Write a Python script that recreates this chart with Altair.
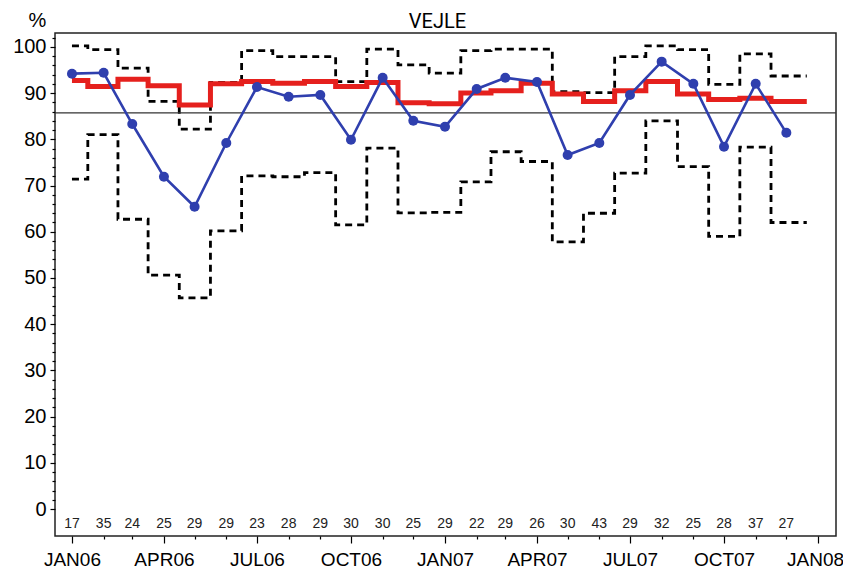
import altair as alt
import pandas as pd

# ---------------- data ----------------
months = pd.date_range("2006-01-01", periods=24, freq="MS")

observed = [94.2, 94.4, 83.3, 71.9, 65.4, 79.2, 91.3, 89.2, 89.6, 79.9, 93.3, 84.0,
            82.7, 90.9, 93.3, 92.4, 76.6, 79.2, 89.6, 96.8, 92.0, 78.4, 92.0, 81.4]
expected = [92.7, 91.4, 93.0, 91.6, 87.4, 92.0, 92.5, 92.1, 92.5, 91.4, 92.3, 87.9,
            87.7, 90.0, 90.5, 92.1, 89.8, 88.2, 90.5, 92.5, 89.8, 88.6, 88.9, 88.2]
upper = [100.2, 99.4, 95.4, 88.2, 82.2, 92.3, 99.2, 97.9, 97.9, 92.5, 99.5, 96.1,
         94.3, 99.2, 99.5, 99.5, 90.3, 90.1, 97.9, 100.2, 99.4, 91.9, 98.5, 93.7]
lower = [71.4, 81.0, 62.7, 50.6, 45.7, 60.2, 72.1, 71.9, 72.8, 61.5, 78.1, 64.1,
         64.2, 70.8, 77.3, 75.2, 57.8, 64.0, 72.7, 84.0, 74.1, 59.0, 78.3, 62.0]
counts = [17, 35, 24, 25, 29, 29, 23, 28, 29, 30, 30, 25,
          29, 22, 29, 26, 30, 43, 29, 32, 25, 28, 37, 27]
target = [85.7]

title_text = "VEJLE"
y_title = "%"

# ---------------- helpers ----------------
def iso(ts):
    return pd.Series(ts).dt.strftime("%Y-%m-%dT%H:%M:%SZ").tolist()

def ms(ts):
    return int(pd.Timestamp(ts, tz="UTC").value // 10**6)

base_df = pd.DataFrame({
    "month": iso(months),
    "observed": observed,
    "n": [str(c) for c in counts],
})

# step segments: each month's value holds from the midpoint with the previous month
starts = [months[0]] + [months[i - 1] + (months[i] - months[i - 1]) / 2 for i in range(1, len(months))]
END_PAD = pd.Timedelta(days=20)
step_x = list(starts) + [months[-1] + END_PAD]
step_df = pd.DataFrame({
    "x": iso(step_x),
    "expected": expected + [expected[-1]],
    "upper": upper + [upper[-1]],
    "lower": lower + [lower[-1]],
})
band_df = step_df.melt(id_vars="x", value_vars=["upper", "lower"], var_name="limit", value_name="v")

x_domain = [ms("2005-12-15T09:36"), ms("2008-01-18T14:00")]
x_ticks = [ms(t) for t in pd.date_range("2006-01-01", periods=25, freq="MS")]

FONT = "Liberation Sans"

x_scale = alt.Scale(type="utc", domain=x_domain, nice=False)
y_scale = alt.Scale(domain=[-5.84, 103.0], nice=False, zero=False)

x_axis = alt.Axis(
    values=x_ticks,
    labelExpr="utcmonth(datum.value) % 3 === 0 ? upper(utcFormat(datum.value, '%b%y')) : ''",
    tickSize={"condition": {"test": "utcmonth(datum.value) % 3 === 0", "value": 7}, "value": 3},
    labelOffset={"condition": {"test": "utcyear(datum.value) === 2008", "value": -3}, "value": 0},
    labelPadding=7,
    labelFontSize=19,
    labelFlush=False,
    labelOverlap=False,
    title=None,
    domain=False,
    grid=False,
)
y_axis = alt.Axis(
    values=list(range(0, 104, 2)),
    labelExpr="datum.value % 10 === 0 ? datum.value : ''",
    tickSize={"condition": {"test": "datum.value % 10 === 0", "value": 5}, "value": 3},
    labelPadding=4,
    labelFontSize=20,
    labelOverlap=False,
    title=y_title,
    titleAngle=0,
    titleX=-18,
    titleY=-13,
    titleAlign="center",
    titleBaseline="middle",
    titleFontSize=20,
    titleFontWeight="normal",
    titleFont=FONT,
    domain=False,
    grid=False,
)


def X(field):
    return alt.X(field, scale=x_scale, axis=x_axis)


def Y(field):
    return alt.Y(field, scale=y_scale, axis=y_axis)


bands = alt.Chart(band_df).mark_line(
    interpolate="step-after", color="black", strokeWidth=2.8, strokeDash=[7, 5]
).encode(
    x=X("x:T"),
    y=Y("v:Q"),
    detail="limit:N",
)

exp_line = alt.Chart(step_df).mark_line(
    interpolate="step-after", color="#e5201d", strokeWidth=5
).encode(
    x=X("x:T"),
    y=Y("expected:Q"),
)

ref_line = alt.Chart(pd.DataFrame({"t": target})).mark_rule(
    color="#333333", strokeWidth=1.3
).encode(y=Y("t:Q"))

obs_line = alt.Chart(base_df).mark_line(
    color="#2f3fae", strokeWidth=2.6,
    point=alt.OverlayMarkDef(filled=True, size=100, color="#2f3fae", opacity=1),
).encode(
    x=X("month:T"),
    y=Y("observed:Q"),
)

count_text = alt.Chart(base_df).mark_text(
    font=FONT, fontSize=14, color="#222222", baseline="middle", align="center"
).encode(
    x=X("month:T"),
    y=alt.value(491),
    text="n:N",
)

chart = alt.layer(bands, exp_line, ref_line, obs_line, count_text).properties(
    width=781,
    height=503,
    autosize=alt.AutoSizeParams(type="none"),
    padding={"left": 47, "top": 25, "right": 7, "bottom": 34},
    title=alt.TitleParams(
        title_text, font="Roboto", fontSize=20, fontWeight="normal",
        anchor="middle", dx=-8, offset=-38, color="black", baseline="alphabetic",
    ),
).configure_view(
    stroke="#222222", strokeWidth=1.5
).configure_axis(
    labelFont=FONT, labelColor="black", tickColor="black", tickWidth=1.2,
    labelOverlap=False,
)

chart.save("out.html", embed_options={"renderer": "svg", "actions": False})
